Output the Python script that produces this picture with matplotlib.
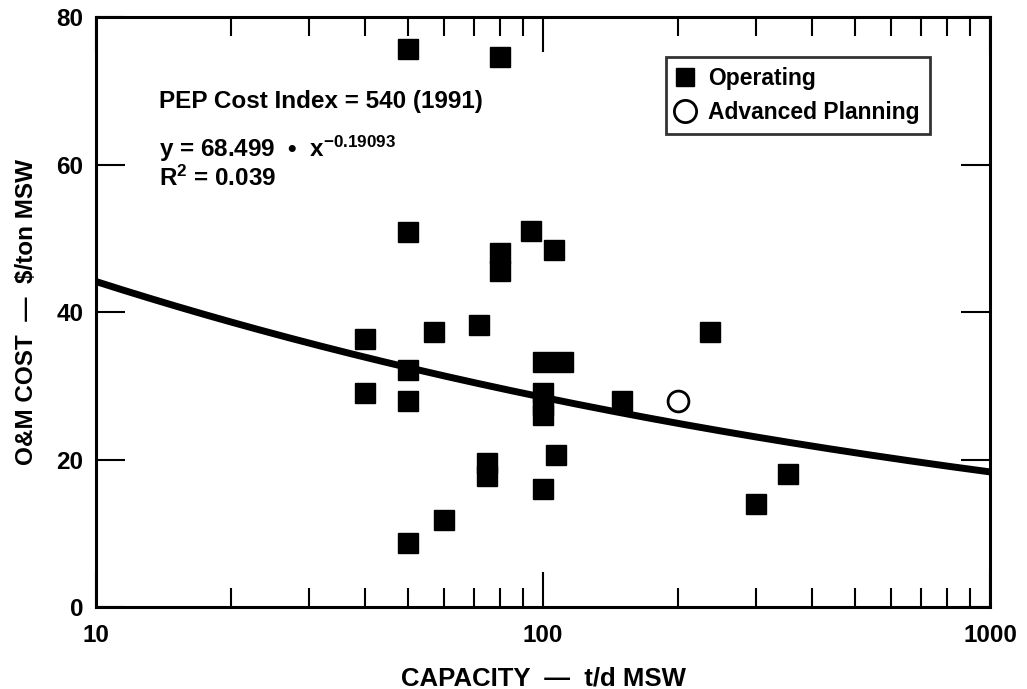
import numpy as np
import matplotlib
matplotlib.use("Agg")
import matplotlib.pyplot as plt
from matplotlib.ticker import FixedLocator, NullFormatter

plt.rcParams['font.family'] = ['Liberation Sans', 'DejaVu Sans']
plt.rcParams['font.weight'] = 'bold'
plt.rcParams['mathtext.fontset'] = 'custom'
plt.rcParams['mathtext.rm'] = 'Liberation Sans:bold'
plt.rcParams['mathtext.it'] = 'Liberation Sans:bold'
plt.rcParams['mathtext.bf'] = 'Liberation Sans:bold'

# operating plants: capacity (t/d MSW) and O&M cost ($/ton MSW)
op_capacity = [50, 80, 50, 80, 80, 94, 106, 40, 57, 72, 50, 40, 50, 100, 111,
               100, 100, 100, 150, 107, 75, 75, 100, 60, 50, 236, 353, 300]
op_cost = [75.7, 74.6, 50.8, 48.0, 45.6, 51.0, 48.4, 36.3, 37.3, 38.2, 32.2, 29.0,
           27.9, 33.2, 33.2, 29.0, 27.4, 26.0, 27.9, 20.6, 19.5, 17.8, 16.0, 11.8,
           8.7, 37.3, 18.0, 14.0]

# advanced planning
plan_capacity = [200]
plan_cost = [27.9]

# power-law fit printed on the chart
fit_a = 68.499
fit_b = -0.19093
fit_r2 = 0.039

x_ticks = [10, 100, 1000]
x_ticklabels = ['10', '100', '1000']
y_ticks = [0, 20, 40, 60, 80]

fig = plt.figure(figsize=(10.27, 6.89), dpi=100)
ax = fig.add_axes([0.0935, 0.119, 0.8705, 0.8563])

xf = np.logspace(1, 3, 200)
ax.plot(xf, fit_a * xf ** fit_b, color='black', lw=5, solid_capstyle='butt', zorder=2)

ax.plot(op_capacity, op_cost, ls='none', marker='s', ms=14.5, color='black',
        label='Operating', zorder=3)
ax.plot(plan_capacity, plan_cost, ls='none', marker='o', ms=15, mfc='white',
        mec='black', mew=2, label='Advanced Planning', zorder=3)

ax.set_xscale('log')
ax.set_xlim(10, 1000)
ax.set_ylim(0, 80)
ax.set_xticks(x_ticks)
ax.set_xticklabels(x_ticklabels)
ax.xaxis.set_minor_locator(FixedLocator([m * d for d in (10, 100) for m in range(2, 10)]))
ax.xaxis.set_minor_formatter(NullFormatter())
ax.set_yticks(y_ticks)

for s in ax.spines.values():
    s.set_linewidth(2.2)

ax.tick_params(which='both', direction='in', top=True, right=True, width=1.5,
               labelsize=17.5, pad=9)
ax.tick_params(axis='x', which='major', length=25, pad=12)
ax.tick_params(axis='x', which='minor', length=14)
ax.tick_params(axis='y', which='major', length=21)

ax.set_xlabel('CAPACITY  —  t/d MSW', fontsize=18.5, fontweight='bold', labelpad=14)
ax.set_ylabel('O&M COST  —  $/ton MSW', fontsize=17.5, fontweight='bold', labelpad=13)

ax.text(0.07, 0.845, 'PEP Cost Index = 540 (1991)', transform=ax.transAxes,
        fontsize=17.5, fontweight='bold')
ax.text(0.07, 0.763, 'y = 68.499  •  x$^{-0.19093}$', transform=ax.transAxes,
        fontsize=17.5, fontweight='bold')
ax.text(0.07, 0.713, 'R$^{2}$ = 0.039', transform=ax.transAxes,
        fontsize=17.5, fontweight='bold')

leg = ax.legend(loc='upper left', bbox_to_anchor=(0.637, 0.932), borderaxespad=0,
                frameon=True, fancybox=False, edgecolor='black',
                handlelength=0.8, handletextpad=0.6, labelspacing=0.45,
                borderpad=0.45, prop={'weight': 'bold', 'size': 16.5})
leg.get_frame().set_linewidth(2)
leg.legend_handles[0].set_markersize(13)
leg.legend_handles[1].set_markersize(16)

fig.savefig('out.png', dpi=100)
